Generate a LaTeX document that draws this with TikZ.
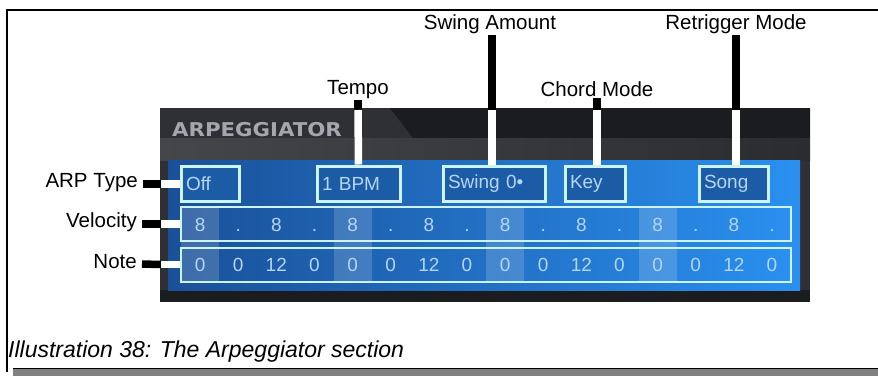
\documentclass[tikz,border=0pt]{standalone}
\usepackage{fontspec}
\setmainfont{Liberation Sans}
\newfontfamily\tabfont{DejaVu Sans}
\usetikzlibrary{calc}
\definecolor{boxedge}{HTML}{CDF5F0}
\definecolor{boxfill}{HTML}{1C5CA6}
\definecolor{valtext}{HTML}{B4D6F4}
\definecolor{paneldark}{HTML}{1B1C1F}
\definecolor{panelmid}{HTML}{2E3034}
\definecolor{bandtop}{HTML}{44464A}
\definecolor{bandbot}{HTML}{2A2C30}
\definecolor{blueL}{HTML}{1A5098}
\definecolor{blueM}{HTML}{2F86DC}
\definecolor{blueR}{HTML}{2A90F0}
\definecolor{tabtext}{HTML}{A4A8AE}
\definecolor{capbar}{HTML}{808080}
\begin{document}
\begin{tikzpicture}[x=1pt,y=-1pt,
  lab/.style={font=\fontsize{20.5}{20.5}\selectfont, inner sep=0pt, text=black},
  callblack/.style={line width=7.5pt, black},
  callwhite/.style={line width=7.5pt, white},
  tbox/.style={draw=boxedge, line width=3pt, fill=boxfill, text=valtext,
    font=\fontsize{19}{19}\selectfont, inner xsep=5pt, inner ysep=0pt,
    minimum height=35pt, align=left},
  rowbox/.style={draw=boxedge, line width=2pt, minimum width=610pt, minimum height=34pt, inner sep=0pt},
  val/.style={text=valtext, font=\fontsize{19}{19}\selectfont, inner sep=0pt, anchor=base}]
\useasboundingbox (0,0) rectangle (878,376);
% frame
\draw[line width=1.4pt] (878,10) -- (7,10) -- (7,372);
\fill[capbar] (13,369) rectangle (878,376);
\draw[line width=1.2pt] (13,368.6) -- (878,368.6);
% panel
\fill[panelmid] (160,108) rectangle (810,302);
\fill[paneldark] (390,108) -- (810,108) -- (810,138) -- (413,138) -- cycle;
\shade[left color=bandtop, right color=bandbot] (160,138) rectangle (810,160);
\fill[paneldark] (160,290) rectangle (810,302);
\node[anchor=west, inner sep=0pt, text=tabtext, font=\tabfont\bfseries\fontsize{19}{19}\selectfont] (tab) at (172,130) {\scalebox{1.12}[1]{ARPEGGIATOR}};
% blue area
\shade[left color=blueL, middle color=blueM, right color=blueR] (168,160) rectangle (800,290);
% highlight columns
\foreach \k in {0,1,2,3} {
  \fill[white, fill opacity=0.16] ({181+152.5*\k},207) rectangle ({181+152.5*\k+38.125},282);
}
% rows
\node[rowbox] (vel) at (486,224) {};
\node[rowbox] (note) at (486,264.5) {};
\foreach \v [count=\i] in {8,.,8,.,8,.,8,.,8,.,8,.,8,.,8,.} {
  \node[val] (v\i) at ({181+38.125*(\i-0.5)},231) {\v};
}
\foreach \v [count=\i] in {0,0,12,0,0,0,12,0,0,0,12,0,0,0,12,0} {
  \node[val] (n\i) at ({181+38.125*(\i-0.5)},271.5) {\v};
}
% top boxes
\node[tbox, text width=48pt] (off) at (210,184) {Off};
\node[tbox, text width=73pt] (bpm) at (358.5,183.5) {1 BPM};
\node[tbox, text width=92pt] (swing) at (494,183.5) {Swing 0•};
\node[tbox, text width=50pt] (key) at (595,183.5) {Key};
\node[tbox, text width=59pt] (song) at (733.5,183.5) {Song};
% labels
\node[lab, anchor=east] (larp) at (138,183) {ARP Type};
\node[lab, anchor=east] (lvel) at (137,222) {Velocity};
\node[lab, anchor=east] (lnote) at (137,262) {Note};
\node[lab, anchor=south] (ltempo) at (358,99) {Tempo};
\node[lab, anchor=south] (lswing) at (490,34) {Swing Amount};
\node[lab, anchor=south] (lchord) at (597,97) {Chord Mode};
\node[lab, anchor=south] (lretrig) at (736,34) {Retrigger Mode};
% connector break points at panel edge
\coordinate (ca) at (161,184);
\coordinate (cv) at (161,224);
\coordinate (cn) at (161,264.5);
\coordinate (ct) at (358,110);
\coordinate (cs) at (492,110);
\coordinate (cc) at (597,110);
\coordinate (cr) at (736,110);
\draw[callblack] ($(larp.east)+(5,1)$) -- (ca);
\draw[callwhite] (ca) -- (off.west);
\draw[callblack] ($(lvel.east)+(5,2)$) -- (cv);
\draw[callwhite] (cv) -- (vel.west);
\draw[callblack] ($(lnote.east)+(5,2)$) -- (cn);
\draw[callwhite] (cn) -- (note.west);
\draw[callblack] ($(ltempo.south)+(0,1)$) -- (ct);
\draw[callwhite] (ct) -- (bpm.north);
\draw[callblack] ($(lswing.south)+(2,1)$) -- (cs);
\draw[callwhite] (cs) -- (swing.north -| cs);
\draw[callblack] ($(lchord.south)+(0,1)$) -- (cc);
\draw[callwhite] (cc) -- (key.north -| cc);
\draw[callblack] ($(lretrig.south)+(0,1)$) -- (cr);
\draw[callwhite] (cr) -- (song.north -| cr);
% caption
\node[anchor=base west, inner sep=0pt, font=\itshape\fontsize{23}{23}\selectfont] (cap) at (8,357) {Illustration 38: The Arpeggiator section};
\end{tikzpicture}
\end{document}
